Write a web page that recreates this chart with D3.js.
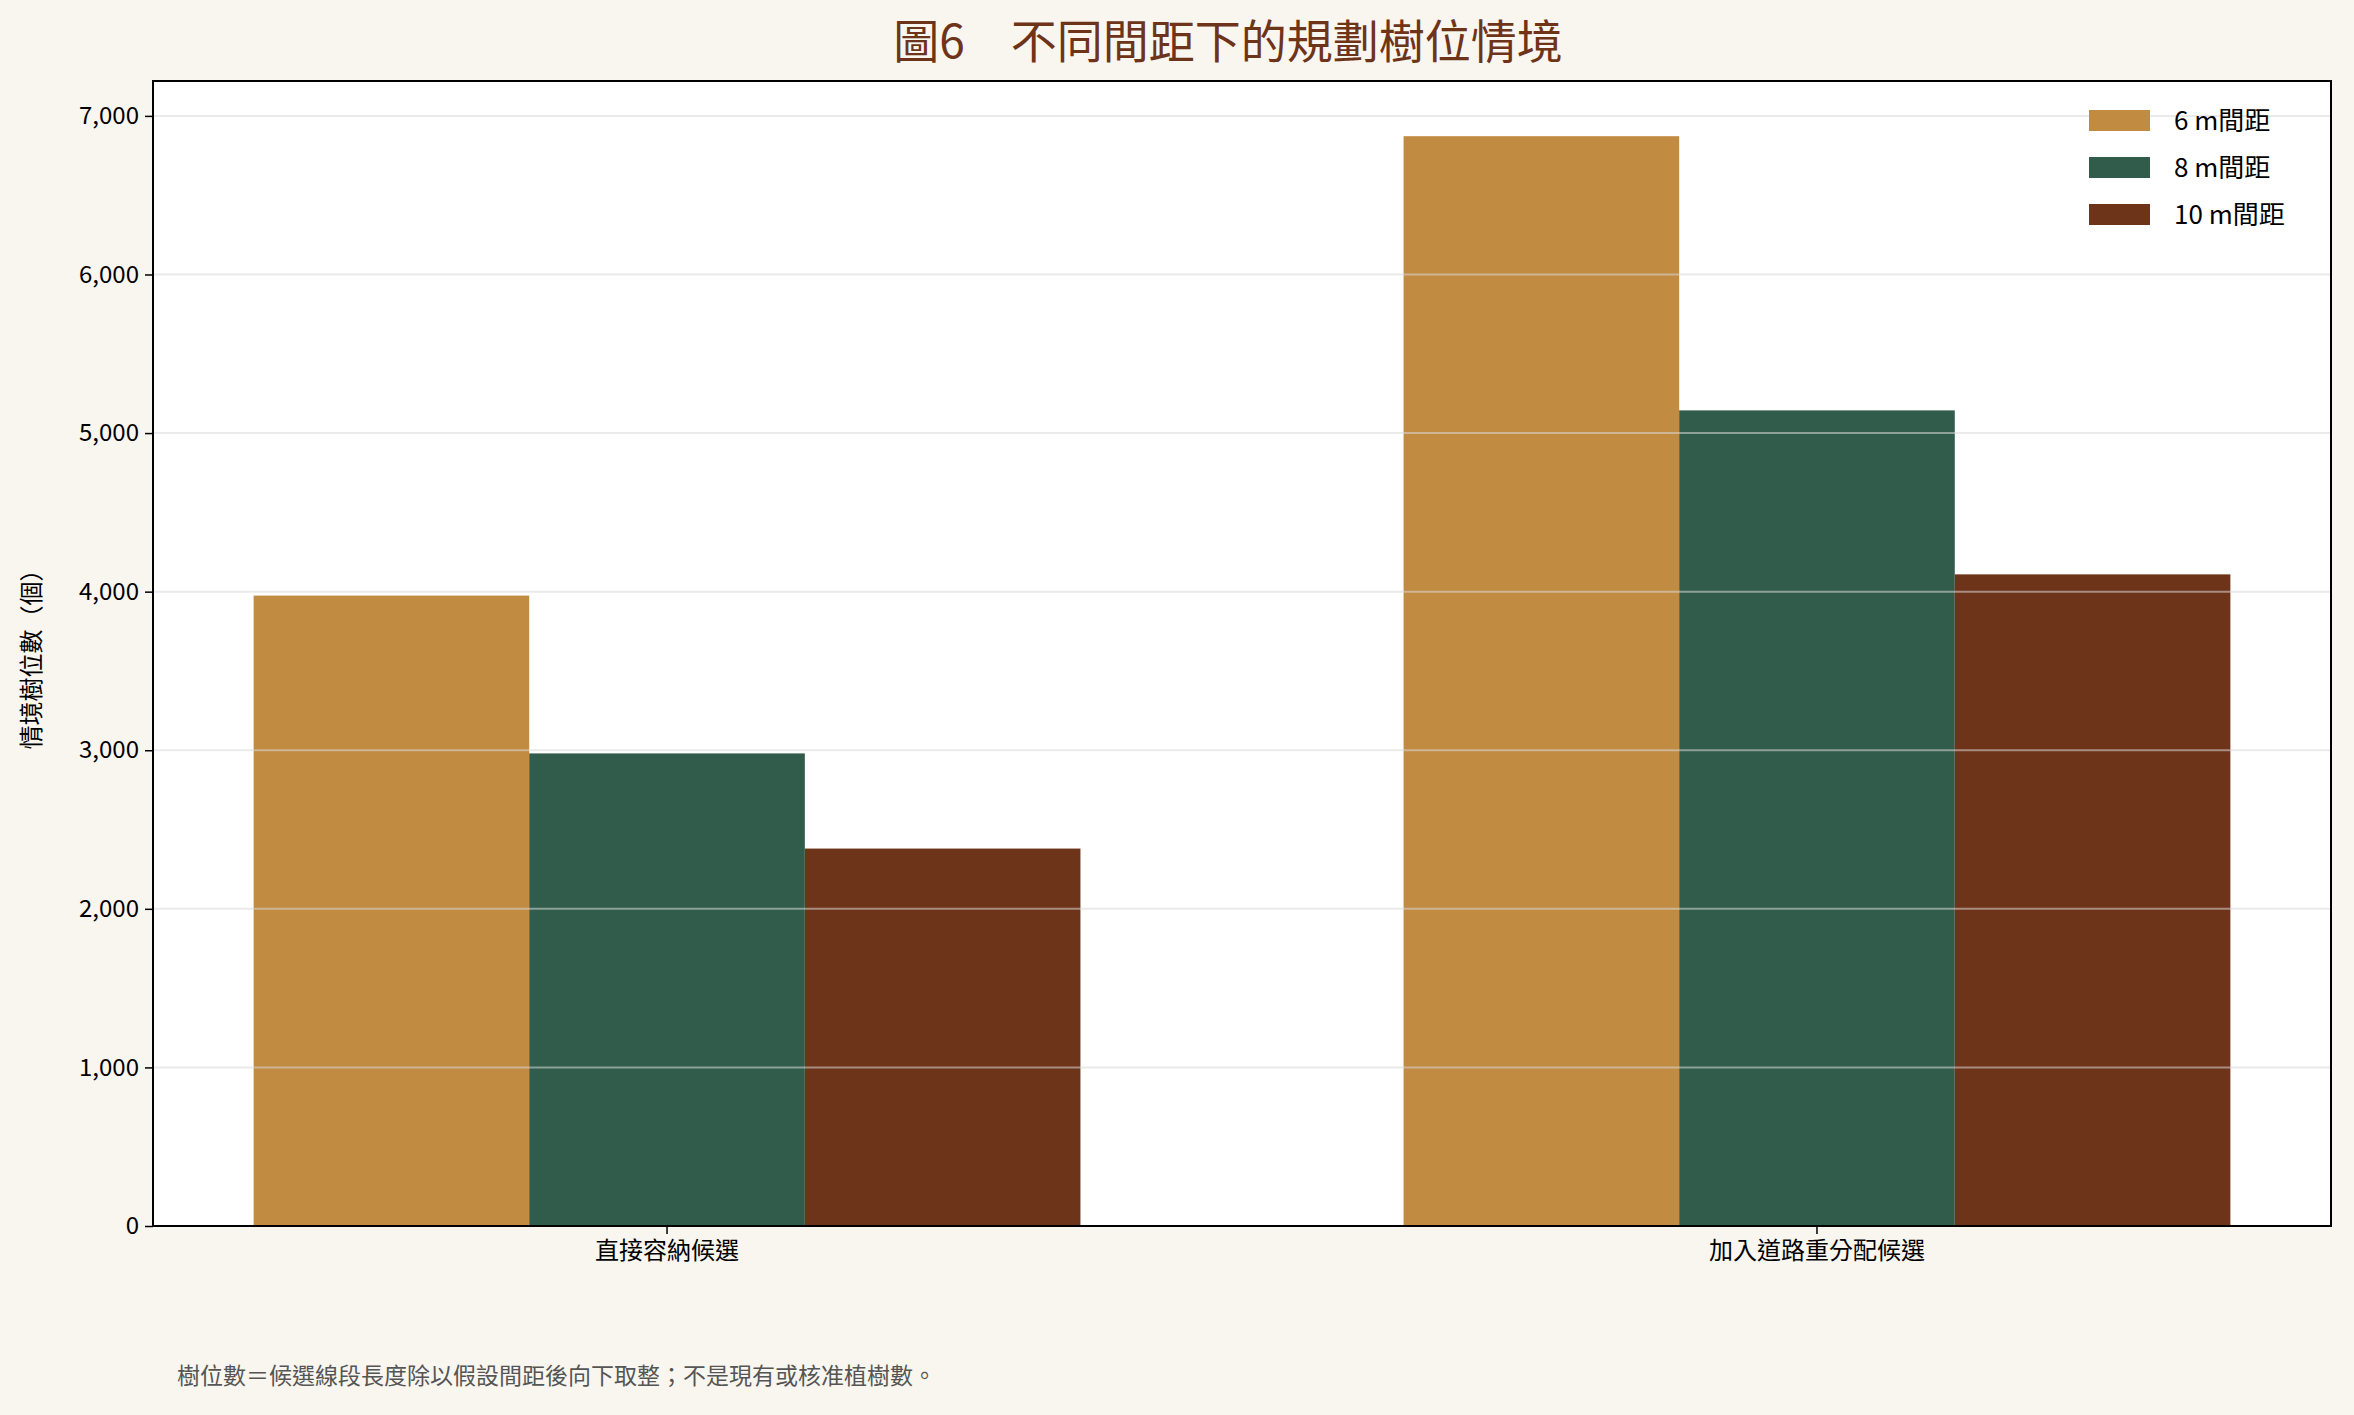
<!DOCTYPE html>
<html><head><meta charset="utf-8">
<script src="https://cdn.jsdelivr.net/npm/d3@7"></script>
<style>body{margin:0;background:#f9f5ef}text{font-family:"Noto Sans CJK TC","Noto Sans",sans-serif}</style>
</head><body><svg id="c" width="2354" height="1415"></svg>
<script>
const categories = ["直接容納候選", "加入道路重分配候選"];
const seriesNames = ["6 m間距", "8 m間距", "10 m間距"];
const values6 = [3975, 6872];
const values8 = [2980, 5143];
const values10 = [2380, 4109];
const colors = ["#c18b42", "#315c4c", "#6e3419"];
const yTicks = [0,1000,2000,3000,4000,5000,6000,7000];

const series = [values6, values8, values10];
const svg = d3.select("#c");
svg.append("rect").attr("width",2354).attr("height",1415).attr("fill","#f9f5ef");
const L=153,R=2331,T=81,B=1226;
svg.append("rect").attr("x",L).attr("y",T).attr("width",R-L).attr("height",B-T).attr("fill","#fff");
const x = d3.scaleBand().domain(categories).range([L,R]).paddingInner(0.281).paddingOuter(0.0875);
const xs = d3.scaleBand().domain(seriesNames).range([0,x.bandwidth()]);
const y = d3.scaleLinear().domain([0,7220]).range([B,T]);

categories.forEach((c,i)=>{
  series.forEach((s,j)=>{
    svg.append("rect").attr("x",x(c)+xs(seriesNames[j])).attr("width",xs.bandwidth())
      .attr("y",y(s[i])).attr("height",B-y(s[i])).attr("fill",colors[j]);
  });
});
// gridlines above bars
svg.append("g").selectAll("line").data(yTicks.slice(1)).join("line")
  .attr("x1",L).attr("x2",R).attr("y1",d=>y(d)).attr("y2",d=>y(d))
  .attr("stroke","#d9d9d9").attr("stroke-opacity",0.55).attr("stroke-width",2);

const ya = svg.append("g").attr("transform",`translate(${L},0)`).call(d3.axisLeft(y).tickValues(yTicks).tickSize(8).tickPadding(6));
const xa = svg.append("g").attr("transform",`translate(0,${B})`).call(d3.axisBottom(x).tickSize(8).tickPadding(8));
[ya,xa].forEach(a=>{a.select(".domain").remove();a.selectAll("line").attr("stroke","#000").attr("stroke-width",1.5);a.selectAll("text").attr("font-size",24).attr("fill","#000");});
svg.append("rect").attr("x",L).attr("y",T).attr("width",R-L).attr("height",B-T).attr("fill","none").attr("stroke","#000").attr("stroke-width",2);

svg.append("text").attr("x",(L+R)/2+-14).attr("y",58).attr("text-anchor","middle").attr("font-size",46).attr("fill","#6e3419").text("圖6　不同間距下的規劃樹位情境");
svg.append("text").attr("transform",`translate(40,${(T+B)/2}) rotate(-90)`).attr("text-anchor","middle").attr("font-size",24).text("情境樹位數（個）");
svg.append("text").attr("x",177).attr("y",1384).attr("font-size",23).attr("fill","#555").text("樹位數＝候選線段長度除以假設間距後向下取整；不是現有或核准植樹數。");

const lg = svg.append("g");
seriesNames.forEach((n,j)=>{
  lg.append("rect").attr("x",2089).attr("y",110+j*47).attr("width",61).attr("height",21).attr("fill",colors[j]);
  lg.append("text").attr("x",2174).attr("y",130+j*47).attr("font-size",26).text(n);
});
</script></body></html>
